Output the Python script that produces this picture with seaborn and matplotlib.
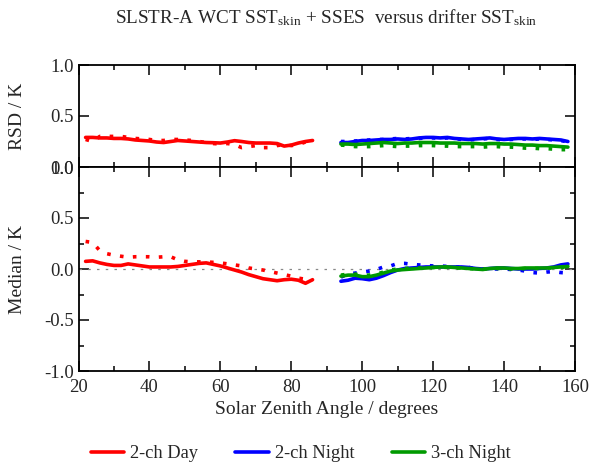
import numpy as np
import pandas as pd
import matplotlib
matplotlib.use("Agg")
import matplotlib.pyplot as plt
from matplotlib.lines import Line2D
from matplotlib.ticker import MultipleLocator
import seaborn as sns

sns.set_style("ticks")
plt.rcParams['font.family'] = ['Liberation Serif', 'DejaVu Serif']
plt.rcParams['mathtext.fontset'] = 'custom'
plt.rcParams['mathtext.rm'] = 'Liberation Serif'
plt.rcParams['mathtext.it'] = 'Liberation Serif'

# ---- data ----
day_sza = [22, 24, 26, 28, 30, 32, 34, 36, 38, 40, 42, 44, 46, 48, 50, 52, 54,
           56, 58, 60, 62, 64, 66, 68, 70, 72, 74, 76, 78, 80, 82, 84, 86]
night_sza = [94, 96, 98, 100, 102, 104, 106, 108, 110, 112, 114, 116, 118, 120,
             122, 124, 126, 128, 130, 132, 134, 136, 138, 140, 142, 144, 146,
             148, 150, 152, 154, 156, 158]

rsd_day2_solid = [0.29, 0.29, 0.285, 0.285, 0.28, 0.28, 0.275, 0.265, 0.26, 0.255,
                  0.245, 0.24, 0.25, 0.26, 0.255, 0.25, 0.245, 0.24, 0.238, 0.235,
                  0.245, 0.258, 0.25, 0.24, 0.235, 0.235, 0.235, 0.23, 0.205, 0.215,
                  0.235, 0.25, 0.26]
rsd_day2_dot = [0.27, 0.25, 0.30, 0.30, 0.30, 0.30, 0.29, 0.28, 0.275, 0.27,
                0.26, 0.26, 0.27, 0.27, 0.265, 0.26, 0.25, 0.24, 0.23, 0.225,
                0.23, 0.22, 0.19, 0.20, 0.21, 0.19, 0.19, 0.21, 0.22, 0.21,
                0.22, 0.245, 0.26]
rsd_night2_solid = [0.24, 0.24, 0.25, 0.26, 0.26, 0.265, 0.27, 0.27, 0.275, 0.27,
                    0.275, 0.285, 0.29, 0.29, 0.285, 0.29, 0.28, 0.275, 0.27, 0.275,
                    0.28, 0.285, 0.275, 0.27, 0.275, 0.28, 0.28, 0.275, 0.28, 0.275,
                    0.27, 0.265, 0.25]
rsd_night2_dot = [0.25, 0.25, 0.255, 0.26, 0.265, 0.27, 0.27, 0.275, 0.28, 0.275,
                  0.28, 0.28, 0.285, 0.285, 0.28, 0.285, 0.28, 0.27, 0.265, 0.27,
                  0.275, 0.28, 0.27, 0.265, 0.27, 0.275, 0.275, 0.27, 0.275, 0.27,
                  0.265, 0.26, 0.245]
rsd_night3_solid = [0.225, 0.225, 0.22, 0.225, 0.23, 0.235, 0.24, 0.235, 0.23, 0.235,
                    0.235, 0.24, 0.24, 0.24, 0.235, 0.235, 0.235, 0.23, 0.23, 0.23,
                    0.225, 0.23, 0.23, 0.225, 0.225, 0.22, 0.215, 0.215, 0.21, 0.21,
                    0.205, 0.20, 0.195]
rsd_night3_dot = [0.215, 0.21, 0.20, 0.20, 0.20, 0.205, 0.21, 0.205, 0.20, 0.205,
                  0.205, 0.21, 0.21, 0.21, 0.205, 0.205, 0.20, 0.20, 0.20, 0.20,
                  0.195, 0.20, 0.20, 0.195, 0.195, 0.19, 0.185, 0.185, 0.18, 0.18,
                  0.175, 0.17, 0.17]

med_day2_solid = [0.075, 0.08, 0.06, 0.045, 0.035, 0.035, 0.05, 0.04, 0.03, 0.02,
                  0.02, 0.02, 0.02, 0.025, 0.035, 0.045, 0.055, 0.06, 0.045, 0.03,
                  0.01, -0.01, -0.03, -0.055, -0.075, -0.095, -0.105, -0.115, -0.105,
                  -0.10, -0.11, -0.14, -0.105]
med_day2_dot = [0.27, 0.26, 0.18, 0.15, 0.135, 0.125, 0.115, 0.12, 0.12, 0.12,
                0.115, 0.12, 0.12, 0.09, 0.075, 0.07, 0.07, 0.07, 0.065, 0.06,
                0.05, 0.04, 0.03, 0.01, 0.0, -0.01, -0.025, -0.04, -0.055, -0.07,
                -0.09, -0.10, -0.105]
med_night2_solid = [-0.12, -0.11, -0.09, -0.095, -0.105, -0.09, -0.065, -0.035, -0.01,
                    0.005, 0.01, 0.015, 0.02, 0.02, 0.02, 0.02, 0.02, 0.02, 0.015,
                    0.005, 0.0, 0.005, 0.01, 0.01, 0.005, 0.0, 0.0, 0.0, 0.005, 0.01,
                    0.02, 0.04, 0.05]
med_night2_dot = [-0.08, -0.05, -0.04, -0.03, -0.02, -0.005, 0.02, 0.03, 0.055, 0.055,
                  0.045, 0.04, 0.035, 0.03, 0.03, 0.025, 0.02, 0.02, 0.015, 0.005,
                  0.0, 0.0, 0.0, 0.0, -0.005, -0.01, -0.02, -0.035, -0.04, -0.03,
                  -0.025, -0.035, -0.04]
med_night3_solid = [-0.07, -0.06, -0.06, -0.075, -0.075, -0.06, -0.04, -0.02, -0.01,
                    -0.005, 0.0, 0.005, 0.01, 0.015, 0.02, 0.02, 0.015, 0.01, 0.005,
                    0.0, -0.005, 0.005, 0.01, 0.01, 0.005, 0.005, 0.01, 0.01, 0.01,
                    0.01, 0.015, 0.02, 0.025]
med_night3_dot = [-0.06, -0.05, -0.05, -0.06, -0.06, -0.05, -0.03, -0.01, 0.0,
                  0.005, 0.01, 0.01, 0.015, 0.015, 0.02, 0.015, 0.01, 0.01, 0.005,
                  0.0, 0.0, 0.0, 0.005, 0.005, 0.0, 0.0, 0.005, 0.005, 0.005,
                  0.01, 0.01, 0.015, 0.02]

x_ticks = [20, 40, 60, 80, 100, 120, 140, 160]
rsd_ticks = [0.0, 0.5, 1.0]
med_ticks = [-1.0, -0.5, 0.0, 0.5, 1.0]
legend_labels = ["2-ch Day", "2-ch Night", "3-ch Night"]

RED = "#ff0000"
BLUE = "#0000ff"
GREEN = "#009a00"

fig = plt.figure(figsize=(5.9, 4.66), dpi=100)
L, R = 78.5 / 590, 575 / 590
ax1 = fig.add_axes([L, 1 - 167 / 466, R - L, (167 - 65) / 466])
ax2 = fig.add_axes([L, 1 - 371 / 466, R - L, (371 - 167) / 466])

LW = 2.6
DOT = (0, (1, 2.6))

series = [
    (ax1, day_sza, rsd_day2_solid, rsd_day2_dot, RED),
    (ax1, night_sza, rsd_night2_solid, rsd_night2_dot, BLUE),
    (ax1, night_sza, rsd_night3_solid, rsd_night3_dot, GREEN),
    (ax2, day_sza, med_day2_solid, med_day2_dot, RED),
    (ax2, night_sza, med_night2_solid, med_night2_dot, BLUE),
    (ax2, night_sza, med_night3_solid, med_night3_dot, GREEN),
]

ax2.axhline(0, color="#888888", lw=0.9, linestyle=(0, (2, 5)), zorder=1)

for ax, xs, ys, yd, c in series:
    sns.lineplot(x=xs, y=ys, ax=ax, color=c, lw=LW, zorder=3)
    sns.lineplot(x=xs, y=yd, ax=ax, color=c, lw=LW, linestyle=DOT, zorder=3)

for ax in (ax1, ax2):
    ax.set_xlim(20, 160)
    ax.set_xticks(x_ticks)
    ax.xaxis.set_minor_locator(MultipleLocator(10))
    ax.tick_params(which="both", direction="in", top=True, right=True,
                   labelsize=13.5, width=1.1, color="black")
    ax.tick_params(which="major", length=7)
    ax.tick_params(which="minor", length=3.5)
    ax.tick_params(axis="x", pad=6)
    for s in ax.spines.values():
        s.set_linewidth(1.3)
        s.set_color("black")

ax1.set_ylim(0, 1.0)
ax1.set_yticks(rsd_ticks)
ax1.set_yticklabels([f"{t:.1f}" for t in rsd_ticks])
ax1.tick_params(labelbottom=False)
ax1.set_ylabel("RSD / K", fontsize=14)

ax2.set_ylim(-1.0, 1.0)
ax2.set_yticks(med_ticks)
ax2.set_yticklabels([f"{t:.1f}" for t in med_ticks])
ax2.yaxis.set_minor_locator(MultipleLocator(0.25))
ax2.set_xticklabels([str(t) for t in x_ticks])
ax2.set_ylabel("Median / K", fontsize=14)
ax2.set_xlabel("Solar Zenith Angle / degrees", fontsize=14, labelpad=3)

ax1.yaxis.set_label_coords(-0.105, 0.5)
ax2.yaxis.set_label_coords(-0.105, 0.5)

fig.text(0.553, 1 - 18 / 466,
         r"SLSTR-A WCT SST$_{\mathrm{skin}}$ + SSES  versus drifter SST$_{\mathrm{skin}}$",
         ha="center", va="center", fontsize=13.8)

handles = [Line2D([0], [0], color=c, lw=LW) for c in (RED, BLUE, GREEN)]
fig.legend(handles, legend_labels, loc="center", bbox_to_anchor=(0.51, 1 - 454 / 466),
           ncol=3, frameon=False, fontsize=13.3, handlelength=1.8,
           handletextpad=0.35, columnspacing=2.0)

fig.savefig("out.png", dpi=100)
